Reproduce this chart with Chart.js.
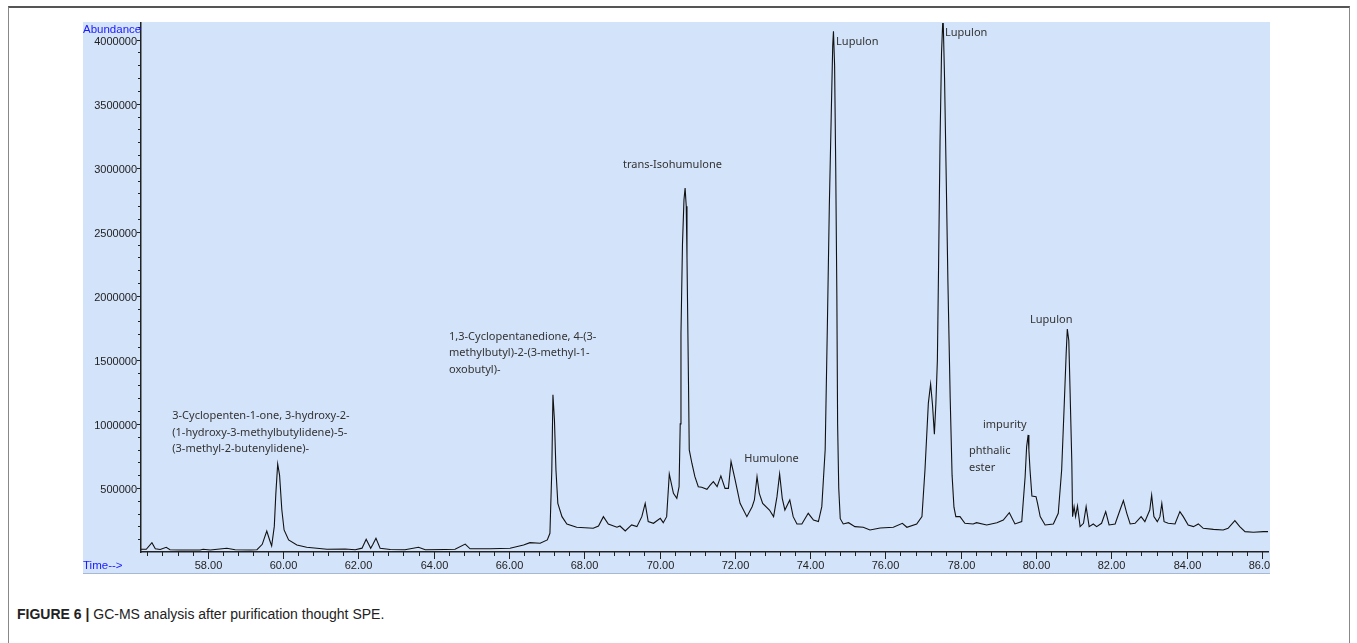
<!DOCTYPE html>
<html>
<head>
<meta charset="utf-8">
<title>GC-MS chromatogram</title>
<script src="https://cdn.jsdelivr.net/npm/chart.js@4.4.1/dist/chart.umd.min.js"></script>
<style>
    body { margin: 0; background: #fff; width: 1357px; height: 643px; overflow: hidden; position: relative; }
    .frame { position: absolute; left: 8px; top: 6px; width: 1340px; height: 700px;
             border-top: 2px solid #555; border-left: 1px solid #888; border-right: 1px solid #888; }
    .panel { position: absolute; left: 83px; top: 22px; width: 1187px; height: 551px;
             background: #d3e3fa; border-bottom: 1px solid #a7b8d2; }
    .panel canvas { position: absolute; left: 0; top: 0; }
    .axis-name { position: absolute; color: #1a1aff; font: 11.5px "Liberation Sans", Arial, sans-serif; }
    .caption { position: absolute; left: 17px; top: 606px; color: #222;
               font: 14px "Liberation Sans Narrow", "Liberation Sans", Arial, sans-serif; }
    .caption b { font-weight: bold; }
</style>
</head>
<body>
<div class="frame"></div>
<div class="panel">
    <canvas id="gcms" width="1187" height="551"></canvas>
    <div class="axis-name" style="left:0; top:1px;">Abundance</div>
    <div class="axis-name" style="left:0; top:537px;">Time--&gt;</div>
</div>
<div class="caption"><b>FIGURE 6 |</b> GC-MS analysis after purification thought SPE.</div>

<script>
// Retention time (min) and abundance
const retentionTimes = [
    56.21, 56.37, 56.52, 56.61, 56.74, 56.90, 57.00, 57.27, 57.80, 57.88,
    58.07, 58.51, 58.73, 59.13, 59.31, 59.45, 59.57, 59.65, 59.70, 59.77,
    59.81, 59.86, 59.91, 59.97, 60.03, 60.15, 60.37, 60.63, 61.17, 61.65,
    61.92, 62.10, 62.21, 62.33, 62.39, 62.47, 62.58, 62.85, 63.24, 63.60,
    63.78, 64.31, 64.57, 64.84, 64.97, 65.50, 66.03, 66.39, 66.56, 66.83,
    67.02, 67.09, 67.14, 67.17, 67.21, 67.25, 67.30, 67.41, 67.54, 67.80,
    68.24, 68.38, 68.51, 68.64, 68.87, 68.95, 69.09, 69.26, 69.40, 69.53,
    69.62, 69.70, 69.84, 70.02, 70.10, 70.19, 70.26, 70.37, 70.46, 70.52,
    70.55, 70.57, 70.61, 70.65, 70.68, 70.71, 70.73, 70.77, 70.79, 70.86,
    70.94, 71.03, 71.12, 71.26, 71.34, 71.43, 71.53, 71.63, 71.74, 71.83,
    71.90, 72.01, 72.14, 72.32, 72.46, 72.52, 72.59, 72.65, 72.74, 72.92,
    73.03, 73.12, 73.19, 73.26, 73.33, 73.46, 73.55, 73.65, 73.78, 73.95,
    74.09, 74.22, 74.31, 74.40, 74.46, 74.51, 74.56, 74.60, 74.62, 74.65,
    74.68, 74.71, 74.73, 74.76, 74.80, 74.88, 75.02, 75.19, 75.41, 75.59,
    75.86, 76.21, 76.45, 76.57, 76.83, 76.97, 77.05, 77.14, 77.20, 77.25,
    77.30, 77.34, 77.38, 77.41, 77.45, 77.49, 77.53, 77.57, 77.61, 77.66,
    77.72, 77.77, 77.82, 77.87, 77.98, 78.11, 78.33, 78.42, 78.69, 78.96,
    79.13, 79.29, 79.44, 79.62, 79.71, 79.75, 79.79, 79.81, 79.84, 79.89,
    80.00, 80.04, 80.11, 80.24, 80.46, 80.59, 80.68, 80.75, 80.80, 80.83,
    80.87, 80.90, 80.95, 80.97, 81.01, 81.05, 81.10, 81.17, 81.26, 81.33,
    81.41, 81.52, 81.61, 81.74, 81.85, 81.94, 82.10, 82.23, 82.32, 82.41,
    82.50, 82.63, 82.79, 82.89, 83.02, 83.07, 83.13, 83.22, 83.29, 83.34,
    83.40, 83.51, 83.69, 83.82, 83.91, 84.04, 84.18, 84.31, 84.44, 84.71,
    84.97, 85.10, 85.28, 85.41, 85.55, 85.77, 86.04, 86.16
];
const abundances = [
    21000, 21000, 73000, 25000, 20000, 37000, 18000, 16000, 16000, 21000,
    16000, 29000, 18000, 16000, 18000, 60000, 164000, 90000, 47000, 200000,
    450000, 687000, 600000, 330000, 172000, 94000, 55000, 37000, 21000, 23000,
    18000, 30000, 99000, 29000, 60000, 107000, 29000, 20000, 18000, 37000,
    18000, 20000, 21000, 62000, 25000, 25000, 29000, 55000, 73000, 68000,
    94000, 146000, 640000, 1227000, 1031000, 640000, 380000, 276000, 219000, 193000,
    185000, 203000, 276000, 219000, 193000, 203000, 164000, 211000, 198000, 276000,
    380000, 237000, 224000, 263000, 229000, 276000, 609000, 458000, 419000, 510000,
    1000000, 1700000, 2400000, 2750000, 2841000, 2700000, 2300000, 1318000, 797000, 693000,
    588000, 510000, 505000, 490000, 520000, 549000, 510000, 594000, 497000, 497000,
    706000, 562000, 380000, 276000, 354000, 406000, 588000, 458000, 380000, 328000,
    276000, 432000, 609000, 419000, 328000, 406000, 276000, 219000, 219000, 302000,
    250000, 237000, 354000, 800000, 1800000, 2700000, 3400000, 3950000, 4065000, 3800000,
    3000000, 2000000, 1000000, 500000, 260000, 219000, 229000, 198000, 193000, 172000,
    187000, 193000, 224000, 193000, 219000, 276000, 640000, 1162000, 1312000, 1150000,
    920000, 1162000, 1500000, 2200000, 3200000, 3900000, 4200000, 3700000, 3000000, 2100000,
    1200000, 600000, 350000, 276000, 276000, 224000, 219000, 229000, 211000, 229000,
    250000, 307000, 219000, 237000, 588000, 823000, 914000, 797000, 640000, 437000,
    432000, 380000, 276000, 211000, 219000, 302000, 640000, 1162000, 1550000, 1740000,
    1650000, 1300000, 700000, 276000, 354000, 276000, 359000, 198000, 224000, 354000,
    198000, 219000, 198000, 224000, 315000, 211000, 219000, 328000, 401000, 302000,
    219000, 224000, 276000, 237000, 328000, 445000, 276000, 237000, 276000, 380000,
    237000, 224000, 219000, 315000, 276000, 211000, 198000, 219000, 185000, 177000,
    172000, 185000, 245000, 198000, 159000, 154000, 159000, 159000
];

// Axis setup
const timeMin = 56.23;
const timeMax = 86.16;
const abundanceMax = 4130000;
const timeMinorStep = 0.4;
const timeLabelStep = 2;
const abundanceMinorStep = 100000;
const abundanceLabelStep = 500000;

// Peak annotations: text lines, anchor time and abundance (left edge, first line)
const peakNames = [
    ['3-Cyclopenten-1-one, 3-hydroxy-2-', '(1-hydroxy-3-methylbutylidene)-5-', '(3-methyl-2-butenylidene)-'],
    ['1,3-Cyclopentanedione, 4-(3-', 'methylbutyl)-2-(3-methyl-1-', 'oxobutyl)-'],
    ['trans-Isohumulone'],
    ['Humulone'],
    ['Lupulon'],
    ['Lupulon'],
    ['Lupulon'],
    ['impurity'],
    ['phthalic', 'ester']
];
const peakNameTimes = [57.06, 64.41, 69.03, 72.25, 74.69, 77.58, 79.84, 78.59, 78.22];
const peakNameLevels = [1062000, 1680000, 3023000, 727000, 3984000, 4055000, 1812000, 992000, 789000];

const axisFont = '11px "Liberation Sans", Arial, sans-serif';

function onStep(value, step) {
    const q = value / step;
    return Math.abs(q - Math.round(q)) < 1e-6;
}

// Tick marks, tick labels and peak names
const chromPlugin = {
    id: 'chromPlugin',
    afterDraw(chart) {
        const { ctx, scales: { x, y } } = chart;
        ctx.save();
        ctx.strokeStyle = '#222';
        ctx.fillStyle = '#222';
        ctx.lineWidth = 1;
        ctx.font = axisFont;
        ctx.textBaseline = 'middle';

        // time axis
        ctx.textAlign = 'center';
        ctx.beginPath();
        const kFirst = Math.ceil(timeMin / timeMinorStep - 1e-6);
        const kLast = Math.floor(timeMax / timeMinorStep + 1e-6);
        for (let k = kFirst; k <= kLast; k++) {
            const t = k * timeMinorStep;
            const px = Math.round(x.getPixelForValue(t)) + 0.5;
            const major = onStep(t, timeLabelStep);
            ctx.moveTo(px, x.top);
            ctx.lineTo(px, x.top + (major ? 7 : 4));
            if (major) ctx.fillText(t.toFixed(2), px, x.top + 14);
        }

        // abundance axis
        ctx.textAlign = 'right';
        for (let v = abundanceMinorStep; v <= abundanceMax; v += abundanceMinorStep) {
            const py = Math.round(y.getPixelForValue(v)) + 0.5;
            const major = onStep(v, abundanceLabelStep);
            ctx.moveTo(y.right, py);
            ctx.lineTo(y.right - (major ? 4 : 3), py);
            if (major) ctx.fillText(String(v), y.right - 4, py + 1.5);
        }
        ctx.stroke();

        // peak names
        ctx.fillStyle = '#333';
        ctx.font = '11px "Noto Sans", "Open Sans", sans-serif';
        ctx.textAlign = 'left';
        peakNames.forEach((lines, i) => {
            const px = x.getPixelForValue(peakNameTimes[i]);
            const py = y.getPixelForValue(peakNameLevels[i]);
            lines.forEach((line, j) => ctx.fillText(line, px, py + j * 16.5));
        });
        ctx.restore();
    }
};

const points = retentionTimes.map((t, i) => ({ x: t, y: abundances[i] }));

new Chart(document.getElementById('gcms'), {
    type: 'line',
    data: {
        datasets: [{
            data: points,
            borderColor: '#111',
            borderWidth: 1.1,
            pointRadius: 0,
            tension: 0,
            fill: false
        }]
    },
    options: {
        responsive: false,
        animation: false,
        events: [],
        layout: { padding: { top: 1, right: 2, left: 0, bottom: 0 } },
        plugins: { legend: { display: false }, tooltip: { enabled: false } },
        scales: {
            x: {
                type: 'linear',
                min: timeMin,
                max: timeMax,
                afterFit: (scale) => { scale.height = 21; },
                border: { display: true, color: '#222', width: 1.5 },
                grid: { display: false, drawTicks: false },
                ticks: { display: false, stepSize: timeMinorStep }
            },
            y: {
                min: 0,
                max: abundanceMax,
                afterFit: (scale) => { scale.width = 58; },
                border: { display: true, color: '#222', width: 1.5 },
                grid: { display: false, drawTicks: false },
                ticks: { display: false, stepSize: abundanceMinorStep }
            }
        }
    },
    plugins: [chromPlugin]
});
</script>
</body>
</html>
